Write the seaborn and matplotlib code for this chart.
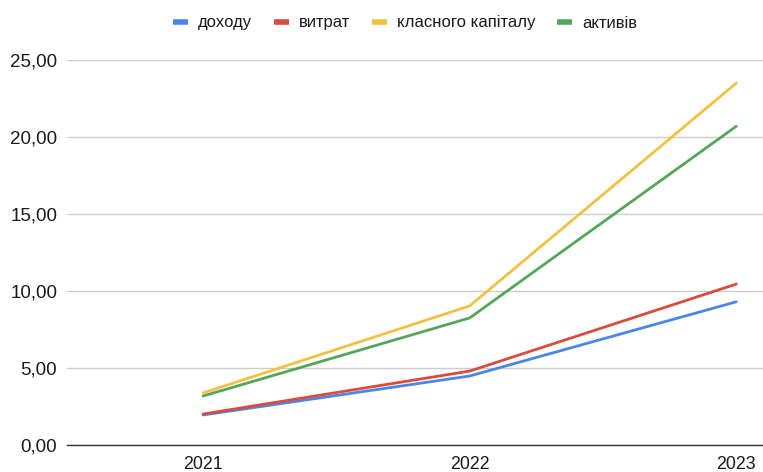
import matplotlib
matplotlib.use("Agg")
import matplotlib.pyplot as plt
from matplotlib.ticker import FuncFormatter
from matplotlib.lines import Line2D
import seaborn as sns
import pandas as pd

years = [2021, 2022, 2023]
series_names = ["доходу", "витрат", "класного капіталу", "активів"]
dohodu = [1.95, 4.48, 9.3]
vytrat = [2.01, 4.8, 10.45]
kapitalu = [3.38, 9.03, 23.5]
aktyviv = [3.18, 8.25, 20.7]
colors = ["#4a86e8", "#db4b3b", "#f2c142", "#55a55b"]
yticks = [0, 5, 10, 15, 20, 25]

sns.set_theme(style="white")
plt.rcParams['font.family'] = ['Liberation Sans', 'DejaVu Sans']

rows = []
for name, vals in zip(series_names, [dohodu, vytrat, kapitalu, aktyviv]):
    for y, v in zip(years, vals):
        rows.append({"year": y, "value": v, "series": name})
df = pd.DataFrame(rows)

fig = plt.figure(figsize=(7.63, 4.72), dpi=100)
ax = fig.add_axes([67/763, 27/472, 1 - 67/763, (445-60)/472])

sns.lineplot(data=df, x="year", y="value", hue="series", hue_order=series_names,
             palette=colors, linewidth=2.0, ax=ax, legend=False)

ax.set_xlim(2021 - 0.51, 2023 + 0.1)
ax.set_ylim(0, 25)
ax.set_yticks(yticks)
ax.set_xticks(years)
ax.set_xticklabels([str(y) for y in years])
ax.yaxis.set_major_formatter(FuncFormatter(lambda v, p: f"{v:.2f}".replace('.', ',')))
ax.grid(axis='y', color='#cccccc', linewidth=1.0)
ax.set_axisbelow(True)
for s in ['top', 'right', 'left']:
    ax.spines[s].set_visible(False)
ax.spines['bottom'].set_color('#333333')
ax.spines['bottom'].set_linewidth(1.0)
ax.tick_params(axis='both', length=0, colors='#1a1a1a')
ax.tick_params(axis='y', pad=7, labelsize=13.5)
ax.tick_params(axis='x', pad=8, labelsize=12.8)
ax.set_xlabel("")
ax.set_ylabel("")

handles = [Line2D([0], [0], color=c, linewidth=4, solid_capstyle='butt') for c in colors]
fig.legend(handles, series_names, loc='center', bbox_to_anchor=(405/763, 1 - 23/472),
           ncol=4, frameon=False, fontsize=12, handlelength=0.9, columnspacing=1.3,
           handletextpad=0.6, labelcolor='#1a1a1a')

fig.savefig("out.png", dpi=100)
